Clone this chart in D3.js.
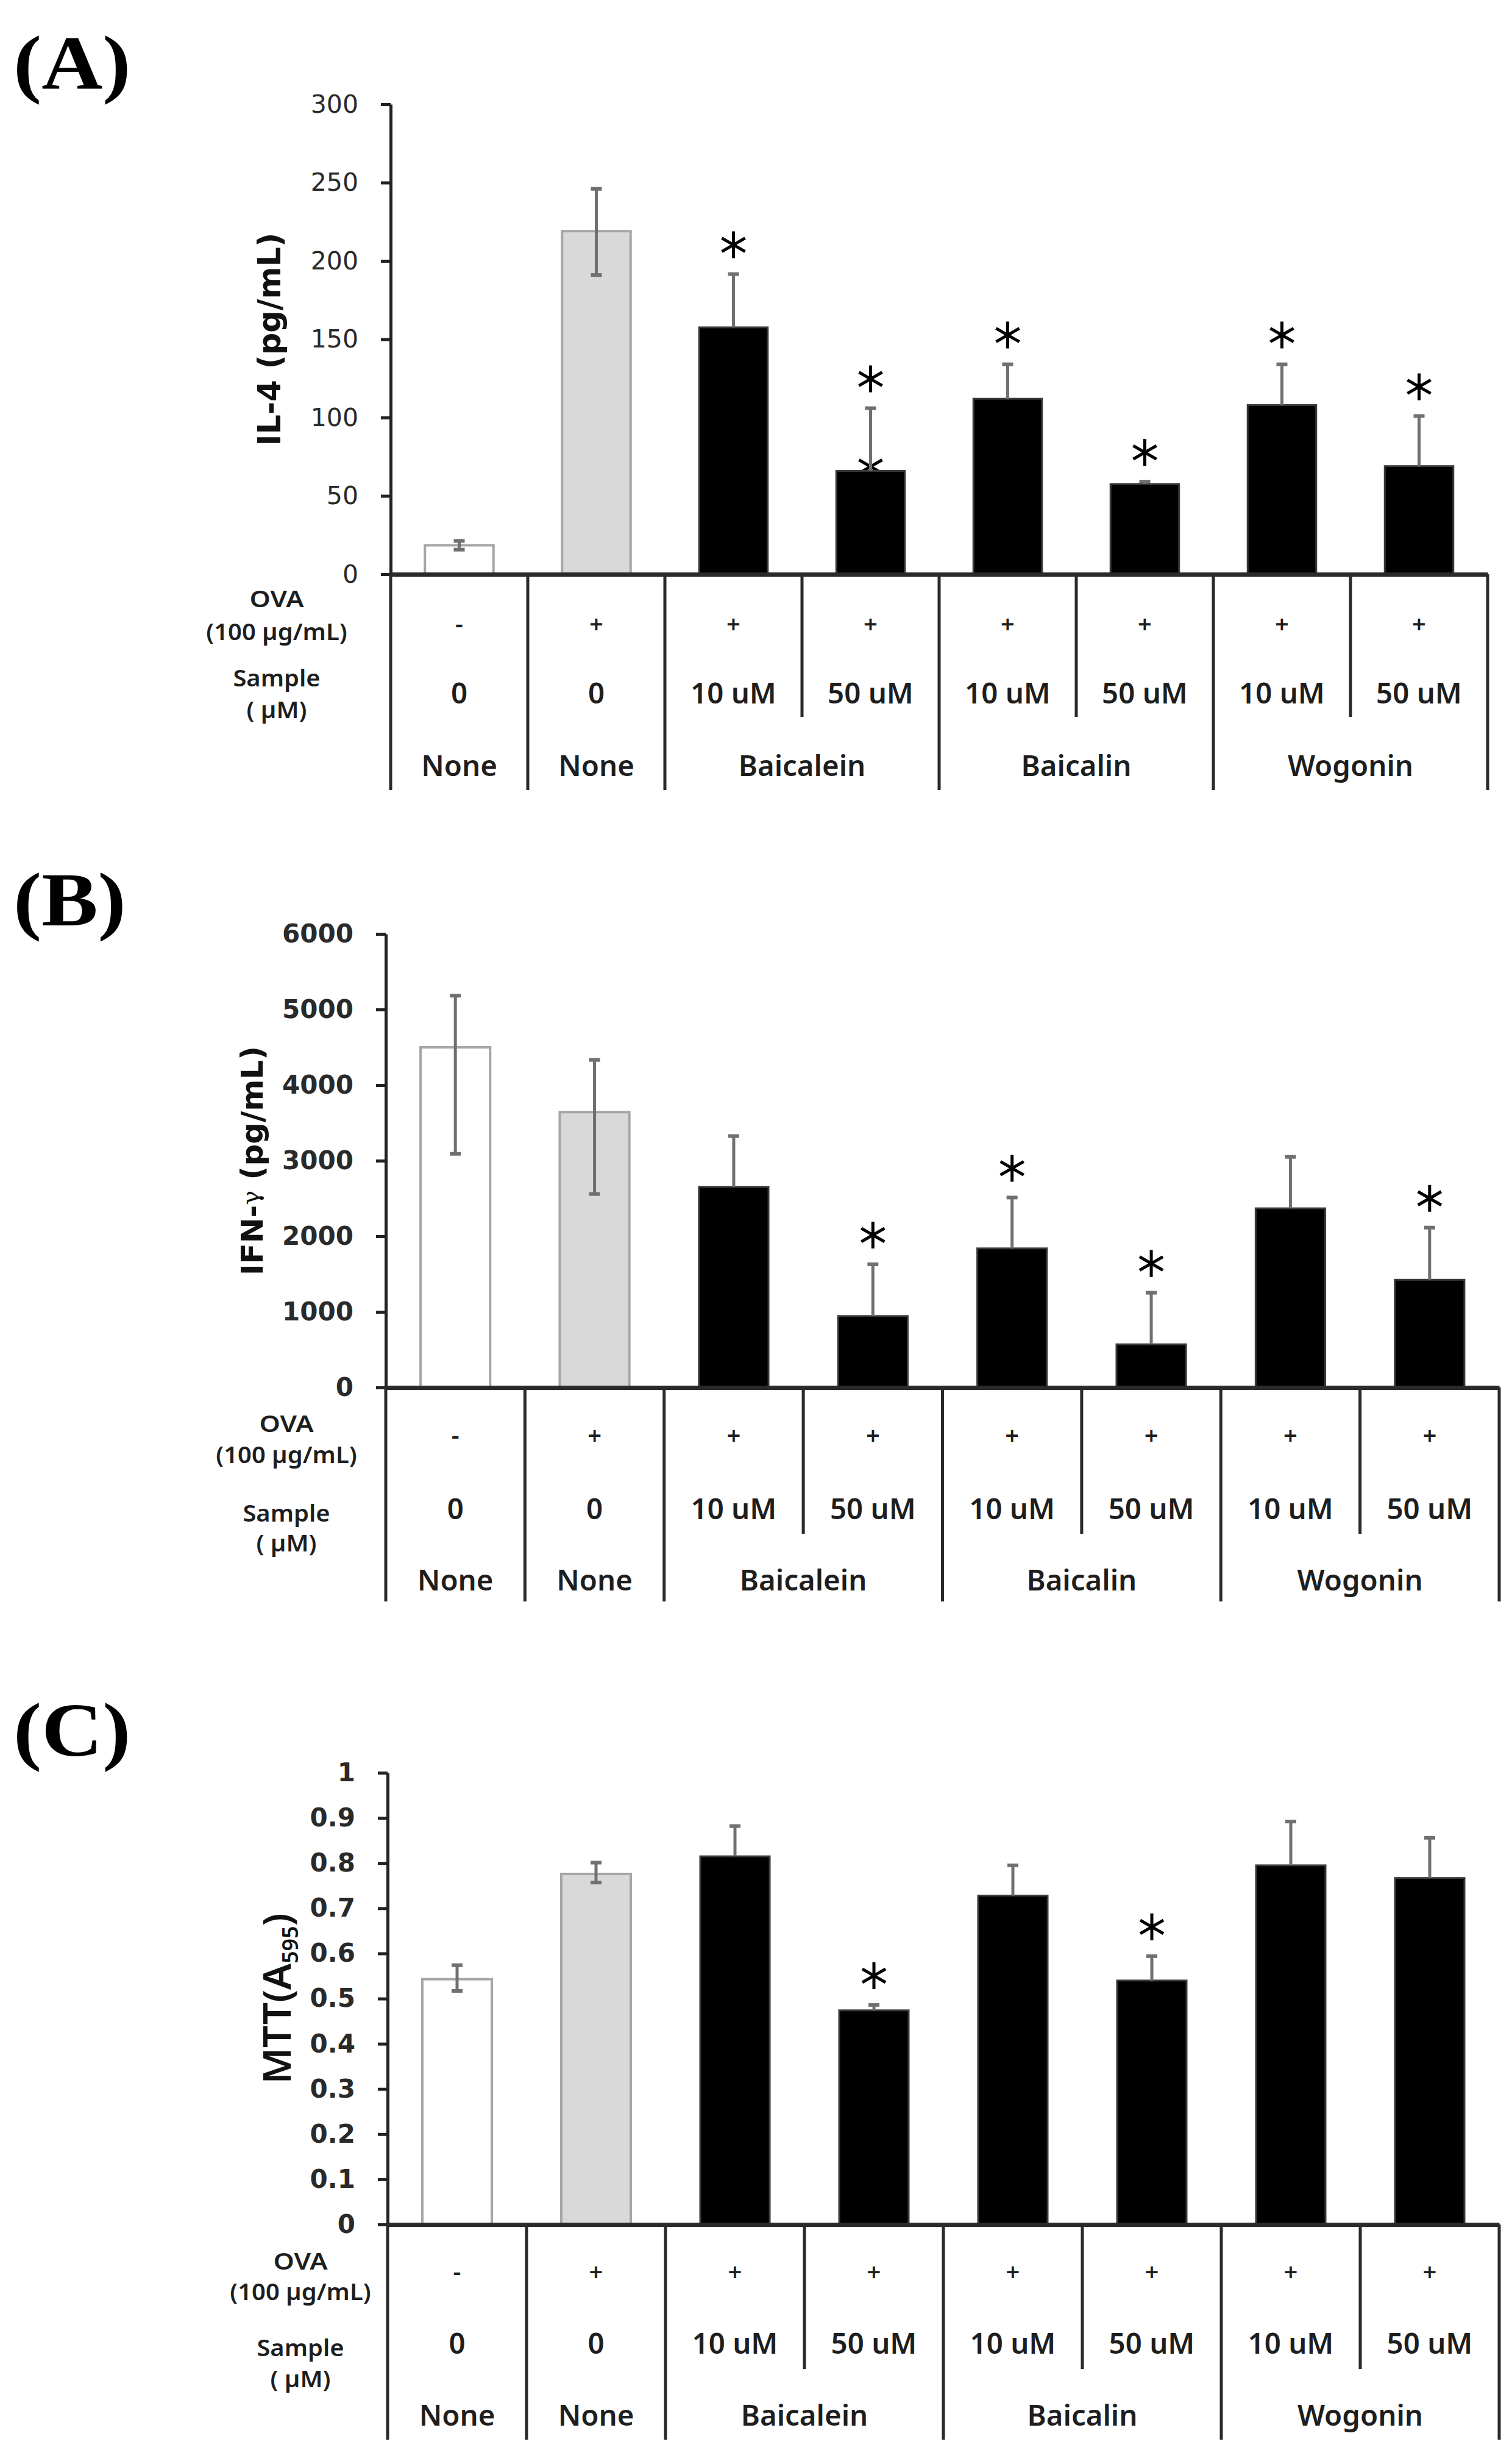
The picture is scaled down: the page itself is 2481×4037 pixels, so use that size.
<!DOCTYPE html>
<html>
<head>
<meta charset="utf-8">
<script src="https://cdn.jsdelivr.net/npm/d3@7"></script>
<style>
  body { margin: 0; background: #fff; }
</style>
</head>
<body>
<div class="root"></div>
<script>

// ---------- data ----------
var ovaLabels    = ['-', '+', '+', '+', '+', '+', '+', '+'];
var sampleLabels = ['0', '0', '10 uM', '50 uM', '10 uM', '50 uM', '10 uM', '50 uM'];
var groupLabels  = ['None', 'None', 'Baicalein', 'Baicalin', 'Wogonin'];
var groupSizes   = [1, 1, 2, 2, 2];

var il4Values    = [18.5, 219, 157.6, 66, 112, 57.6, 108, 69];
var il4ErrUp     = [2.8, 27, 34, 40, 22, 1.5, 26, 32];
var il4ErrDown   = [2.8, 28, 0, 0, 0, 0, 0, 0];
var il4Stars     = [0, 0, 1, 2, 1, 1, 1, 1];
var il4Ticks     = [0, 50, 100, 150, 200, 250, 300];
var il4TickLabels = ['0', '50', '100', '150', '200', '250', '300'];

var ifnValues    = [4500, 3643, 2653, 945, 1840, 571, 2370, 1425];
var ifnErrUp     = [683, 690, 673, 685, 673, 682, 681, 690];
var ifnErrDown   = [1409, 1084, 0, 0, 0, 0, 0, 0];
var ifnStars     = [0, 0, 0, 1, 1, 1, 0, 1];
var ifnTicks     = [0, 1000, 2000, 3000, 4000, 5000, 6000];
var ifnTickLabels = ['0', '1000', '2000', '3000', '4000', '5000', '6000'];

var mttValues    = [0.543, 0.776, 0.815, 0.474, 0.728, 0.540, 0.795, 0.767];
var mttErrUp     = [0.031, 0.025, 0.067, 0.012, 0.067, 0.054, 0.097, 0.089];
var mttErrDown   = [0.026, 0.019, 0, 0, 0, 0, 0, 0];
var mttStars     = [0, 0, 0, 1, 0, 1, 0, 0];
var mttTicks     = [0, 0.1, 0.2, 0.3, 0.4, 0.5, 0.6, 0.7, 0.8, 0.9, 1];
var mttTickLabels = ['0', '0.1', '0.2', '0.3', '0.4', '0.5', '0.6', '0.7', '0.8', '0.9', '1'];


var canvasWidth  = 2481,
    canvasHeight = 4037;

var canvas = d3.select('.root')
               .append('svg')
               .attr('width', canvasWidth)
               .attr('height', canvasHeight)
               .style('display', 'block');

var panels = [
  { letter: '(A)', values: il4Values, up: il4ErrUp, down: il4ErrDown, stars: il4Stars,
    ticks: il4Ticks, tickLabels: il4TickLabels, max: 300, title: 'il4',
    top: 171, zero: 942, x0: 641, x1: 2441, letterY: 145, titleX: 442, rowX: 454,
    tickWeight: '500', tickFontSize: 41,
    rows: { ova: 40, ovaUnit: 94, ovaVal: 82, sample: 170, sampleUnit: 222, sampleVal: 195, group: 314, end: 354, short: 234 } },
  { letter: '(B)', values: ifnValues, up: ifnErrUp, down: ifnErrDown, stars: ifnStars,
    ticks: ifnTicks, tickLabels: ifnTickLabels, max: 6000, title: 'ifn',
    top: 1532, zero: 2276, x0: 633, x1: 2460, letterY: 1518, titleX: 413, rowX: 470,
    tickWeight: 'bold', tickFontSize: 42,
    rows: { ova: 59, ovaUnit: 110, ovaVal: 79, sample: 206, sampleUnit: 255, sampleVal: 199, group: 316, end: 351, short: 240 } },
  { letter: '(C)', values: mttValues, up: mttErrUp, down: mttErrDown, stars: mttStars,
    ticks: mttTicks, tickLabels: mttTickLabels, max: 1, title: 'mtt',
    top: 2908, zero: 3649, x0: 636, x1: 2460, letterY: 2880, titleX: 454, rowX: 493,
    tickWeight: 'bold', tickFontSize: 42,
    rows: { ova: 60, ovaUnit: 110, ovaVal: 78, sample: 202, sampleUnit: 253, sampleVal: 195, group: 313, end: 353, short: 237 } }
];

var barFill   = function (i) { return i === 0 ? '#ffffff' : (i === 1 ? '#d9d9d9' : '#000000'); };
var barStroke = function (i) { return i < 2 ? '#a6a6a6' : '#3a3a3a'; };

var star = d3.symbol().type(d3.symbolAsterisk).size(1370);

// text with a horizontal stretch, like the original figure
function label(g, x, y, str, size, sx, opts) {
  opts = opts || {};
  return g.append('text')
          .attr('transform', 'translate(' + x + ',' + y + ') scale(' + sx + ',1)')
          .attr('text-anchor', opts.anchor || 'middle')
          .attr('dy', '0.36em')
          .style('font-family', opts.family || '"Noto Sans", sans-serif')
          .style('font-weight', opts.weight || '600')
          .style('font-size', size + 'px')
          .style('fill', opts.fill || '#1e1e1e')
          .text(str);
}

panels.forEach(function (p) {

  var g = canvas.append('g');

  var x = d3.scaleBand()
            .domain(d3.range(p.values.length))
            .range([p.x0, p.x1])
            .padding(0);

  var y = d3.scaleLinear()
            .domain([0, p.max])
            .range([p.zero, p.top]);

  var bw = x.bandwidth() * 0.5;
  var cx = function (i) { return x(i) + x.bandwidth() / 2; };

  // panel letter
  g.append('text')
   .attr('transform', 'translate(22,' + p.letterY + ') scale(1.1,1)')
   .style('font-family', '"Liberation Serif", "Times New Roman", serif')
   .style('font-weight', 'bold')
   .style('font-size', '126px')
   .style('fill', '#000')
   .text(p.letter);

  // y axis title
  var cyTitle = (p.top + p.zero) / 2;
  var t = g.append('text')
           .attr('transform', 'translate(' + p.titleX + ',' + cyTitle + ') rotate(-90)')
           .attr('text-anchor', 'middle')
           .attr('dy', '0.36em')
           .style('fill', '#111');
  if (p.title === 'il4') {
    t.style('font-family', '"DejaVu Sans", sans-serif')
     .style('font-weight', 'bold')
     .style('font-size', '51px')
     .text('IL-4 (pg/mL)');
  } else if (p.title === 'ifn') {
    t.style('font-family', '"DejaVu Sans", sans-serif')
     .style('font-weight', 'bold')
     .style('font-size', '50px');
    t.append('tspan').text('IFN-');
    t.append('tspan').attr('dy', -6)
     .style('font-family', '"DejaVu Serif", serif')
     .style('font-weight', 'normal').style('font-size', '40px').text('γ');
    t.append('tspan').attr('dy', 6).text(' (pg/mL)');
  } else {
    t.style('font-family', '"Noto Sans", sans-serif')
     .style('font-weight', '600')
     .style('font-size', '64px');
    t.append('tspan').text('MTT(A');
    t.append('tspan').attr('dy', 12).style('font-size', '36px').text('595');
    t.append('tspan').attr('dy', -12).text(')');
  }

  // hidden second asterisk (drawn behind the bar)
  p.stars.forEach(function (s, i) {
    if (s === 2) {
      g.append('path')
       .attr('d', star)
       .attr('transform', 'translate(' + cx(i) + ',' + (y(p.values[i]) - 7) + ')')
       .style('fill', 'none')
       .style('stroke', '#000')
       .style('stroke-width', 5);
    }
  });

  // bars
  g.selectAll('rect.bar')
   .data(p.values)
   .enter()
   .append('rect')
   .attr('class', 'bar')
   .attr('x', function (d, i) { return cx(i) - bw / 2; })
   .attr('y', function (d) { return y(d); })
   .attr('width', bw)
   .attr('height', function (d) { return p.zero - y(d); })
   .style('fill', function (d, i) { return barFill(i); })
   .style('stroke', function (d, i) { return barStroke(i); })
   .style('stroke-width', function (d, i) { return i < 2 ? 4 : 3; });

  // error bars
  p.values.forEach(function (v, i) {
    var yt = y(v + p.up[i]),
        yb = y(v - p.down[i]);
    g.append('line')
     .attr('x1', cx(i)).attr('x2', cx(i))
     .attr('y1', yt).attr('y2', p.down[i] > 0 ? yb : y(v))
     .style('stroke', '#707070')
     .style('stroke-width', 5);
    g.append('line')
     .attr('x1', cx(i) - 9).attr('x2', cx(i) + 9)
     .attr('y1', yt).attr('y2', yt)
     .style('stroke', '#707070')
     .style('stroke-width', 6);
    if (p.down[i] > 0) {
      g.append('line')
       .attr('x1', cx(i) - 9).attr('x2', cx(i) + 9)
       .attr('y1', yb).attr('y2', yb)
       .style('stroke', '#707070')
       .style('stroke-width', 6);
    }
    if (p.stars[i] > 0) {
      g.append('path')
       .attr('d', star)
       .attr('transform', 'translate(' + cx(i) + ',' + (yt - 48) + ')')
       .style('fill', 'none')
       .style('stroke', '#000')
       .style('stroke-width', 5);
    }
  });

  // y axis
  var yAxis = g.append('g')
               .attr('transform', 'translate(' + p.x0 + ',0)')
               .call(d3.axisLeft(y)
                       .tickValues(p.ticks)
                       .tickSize(16)
                       .tickSizeOuter(0)
                       .tickPadding(37)
                       .tickFormat(function (d, i) { return p.tickLabels[i]; }));
  yAxis.select('.domain').style('stroke', '#222').style('stroke-width', 5);
  yAxis.selectAll('.tick line').style('stroke', '#222').style('stroke-width', 5);
  yAxis.selectAll('.tick text')
       .style('font-family', '"DejaVu Sans", sans-serif')
       .style('font-weight', p.tickWeight)
       .style('font-size', p.tickFontSize + 'px')
       .style('fill', '#2a2a2a');

  // x axis line
  var xAxis = g.append('g')
               .attr('transform', 'translate(0,' + p.zero + ')')
               .call(d3.axisBottom(x).tickSize(0).tickSizeOuter(0).tickFormat(''));
  xAxis.select('.domain').style('stroke', '#2a2a2a').style('stroke-width', 7);

  // table below the axis
  var r = p.rows;
  var full = [0], acc = 0;
  groupSizes.forEach(function (s) { acc += s; full.push(acc); });
  d3.range(p.values.length + 1).forEach(function (b) {
    var bx = b < p.values.length ? x(b) : p.x1;
    var isFull = full.indexOf(b) >= 0;
    g.append('line')
     .attr('x1', bx).attr('x2', bx)
     .attr('y1', p.zero).attr('y2', p.zero + (isFull ? r.end : r.short))
     .style('stroke', '#2a2a2a')
     .style('stroke-width', 5);
  });

  label(g, p.rowX, p.zero + r.ova, 'OVA', 38, 1.15);
  label(g, p.rowX, p.zero + r.ovaUnit, '(100 µg/mL)', 38, 1.05);
  label(g, p.rowX, p.zero + r.sample, 'Sample', 38, 1.05);
  label(g, p.rowX, p.zero + r.sampleUnit, '( µM)', 38, 1.05);

  ovaLabels.forEach(function (s, i) {
    label(g, cx(i), p.zero + r.ovaVal, s, 40, 1.0);
  });
  sampleLabels.forEach(function (s, i) {
    label(g, cx(i), p.zero + r.sampleVal, s, 46, 1.03);
  });
  groupLabels.forEach(function (s, k) {
    var a = full[k], b = full[k + 1];
    var xa = x(a), xb = b < p.values.length ? x(b) : p.x1;
    label(g, (xa + xb) / 2, p.zero + r.group, s, 46, 1.03);
  });
});

</script>
</body>
</html>
